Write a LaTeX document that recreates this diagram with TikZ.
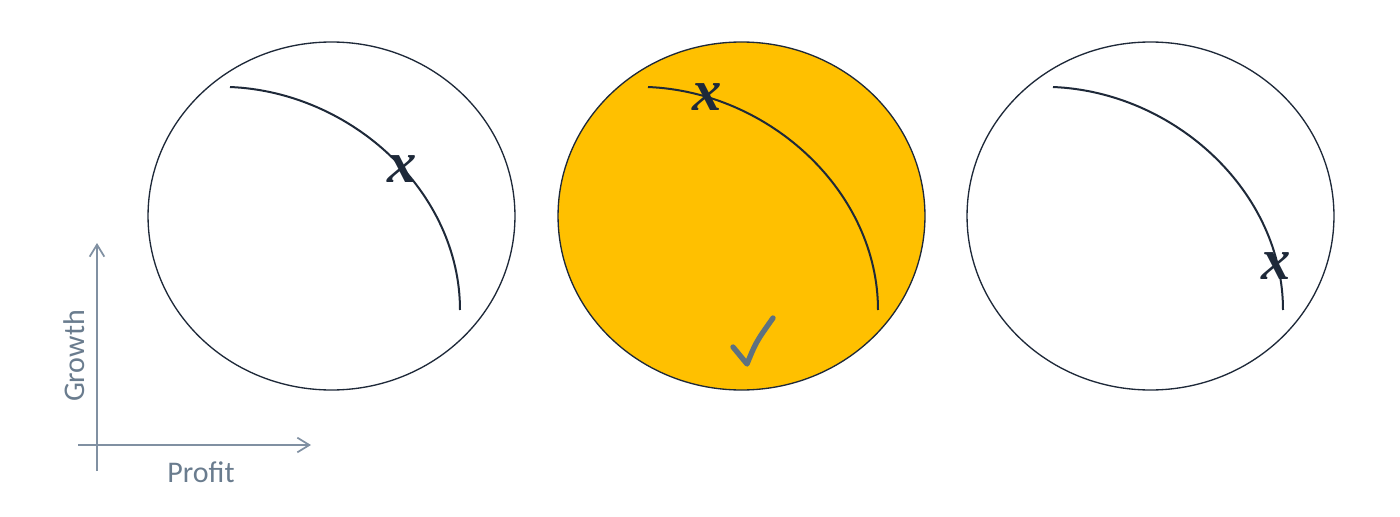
\documentclass[tikz,border=0pt]{standalone}
\usepackage{fontspec}
\setmainfont{Carlito}
\newfontfamily\xfont{Liberation Serif}
\usetikzlibrary{arrows.meta}
\definecolor{ink}{HTML}{1E2939}
\definecolor{gold}{HTML}{FFC000}
\definecolor{axis}{HTML}{8090A2}
\definecolor{lbl}{HTML}{6A7C8E}
\definecolor{tick}{HTML}{5E7180}
\tikzset{
  rim/.style={draw=ink, line width=1.0pt},
  frontier/.style={draw=ink, line width=1.5pt},
  xmark/.style={text=ink, inner sep=0pt, font=\xfont\bfseries\itshape\fontsize{44}{44}\selectfont},
  axisline/.style={draw=axis, line width=1.3pt, -{Straight Barb[length=9pt,width=11pt]}},
  axislabel/.style={text=lbl, inner sep=0pt, font=\fontsize{22.5}{22.5}\selectfont},
}
\begin{document}
\begin{tikzpicture}[x=0.75pt, y=-0.75pt]
\useasboundingbox (0,0) rectangle (1400,517);
% circles
\fill[gold] (741.5,216) ellipse [x radius=137.6pt, y radius=130.5pt];
\foreach \cx/\n in {331.5/c1, 741.5/c2, 1150.5/c3} {
  \coordinate (\n) at (\cx,216);
  \draw[rim] (\n) ellipse [x radius=137.6pt, y radius=130.5pt];
}
% frontier curves
\foreach \sx/\n in {230/f1, 648/f2, 1053/f3} {
  \coordinate (\n a) at (\sx,87);
  \coordinate (\n b) at ({\sx+230},310);
  \draw[frontier] (\n a) .. controls ({\sx+122},92) and ({\sx+230},192) .. (\n b);
}
% x marks
\node[xmark, anchor=base] (x1) at (402,182) {x};
\node[xmark, anchor=base] (x2) at (707,111) {x};
\node[xmark, anchor=base] (x3) at (1276,279) {x};
% check mark
\coordinate (k1) at (733,347);
\coordinate (k2) at (747,364);
\coordinate (k3) at (773,318);
\draw[tick, line width=4pt, line cap=round, line join=round] (k1) -- (k2) .. controls (756,342) .. (k3);
% axes
\coordinate (vb) at (97,471);
\coordinate (vt) at (97,243);
\coordinate (hl) at (78,445);
\coordinate (hr) at (311,445);
\draw[axisline] (vb) -- (vt);
\draw[axisline] (hl) -- (hr);
\node[axislabel, rotate=90] (gl) at (74,356) {Growth};
\node[axislabel] (pl) at (201,472) {Profit};
\end{tikzpicture}
\end{document}
